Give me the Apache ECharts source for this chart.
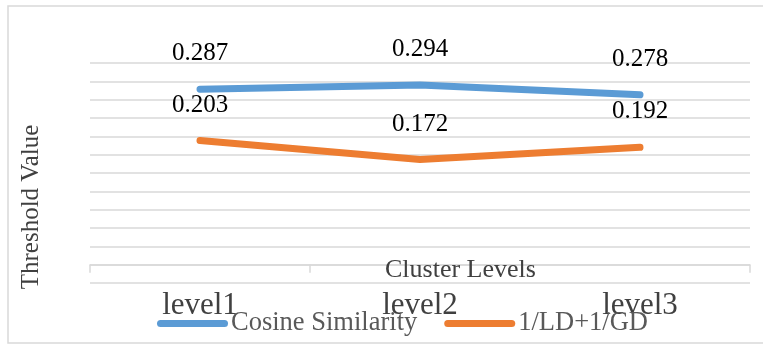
<!DOCTYPE html>
<html>
<head>
<meta charset="utf-8">
<script src="https://cdn.jsdelivr.net/npm/echarts@6/dist/echarts.min.js"></script>
<style>
  html, body { margin: 0; padding: 0; background: #fff; }
  #chart { width: 763px; height: 345px; }
</style>
</head>
<body>
<div id="chart"></div>
<script>
// Threshold values per cluster level for two distance measures
const categories = ['level1', 'level2', 'level3'];
const cosineSimilarity = [0.287, 0.294, 0.278];
const ldGdSum = [0.203, 0.172, 0.192];
const seriesNames = ['Cosine Similarity', '1/LD+1/GD'];

const FONT = "'Liberation Serif', 'Times New Roman', serif";
const GRID_GRAY = '#d9d9d9';

const chart = echarts.init(document.getElementById('chart'));

function lineSeries(name, data, color) {
  return {
    name: name,
    type: 'line',
    data: data,
    symbol: 'circle',
    symbolSize: 0,
    showSymbol: true,
    lineStyle: { color: color, width: 7, cap: 'round', join: 'round' },
    itemStyle: { color: color },
    label: {
      show: true,
      position: 'top',
      distance: 23,
      fontFamily: FONT,
      fontSize: 25,
      color: '#000',
      formatter: p => p.value.toFixed(3)
    },
    labelLayout: { hideOverlap: false },
    emphasis: { disabled: true }
  };
}

chart.setOption({
  animation: false,
  backgroundColor: '#fff',
  grid: { left: 90, right: 13, top: 63, bottom: 62 },
  xAxis: {
    type: 'category',
    data: categories,
    boundaryGap: true,
    axisLine: { show: true, onZero: true, lineStyle: { color: GRID_GRAY, width: 1.5 } },
    axisTick: { show: true, length: 8, lineStyle: { color: GRID_GRAY, width: 1.5 } },
    axisLabel: { fontFamily: FONT, fontSize: 31, color: '#404040', margin: 7 },
    splitLine: { show: false }
  },
  yAxis: {
    type: 'value',
    min: -0.03,
    max: 0.33,
    interval: 0.03,
    axisLine: { show: false },
    axisTick: { show: false },
    axisLabel: { show: false },
    splitLine: { show: true, lineStyle: { color: GRID_GRAY, width: 1.5 } }
  },
  legend: {
    left: 157,
    top: 310,
    padding: 0,
    itemWidth: 71,
    itemHeight: 7,
    itemGap: 27,
    icon: 'path://M3.5,0 H67.5 A3.5,3.5 0 0 1 67.5,7 H3.5 A3.5,3.5 0 0 1 3.5,0 Z',
    textStyle: { fontFamily: FONT, fontSize: 26.5, color: '#595959', padding: [0, 0, 0, -2] },
    data: seriesNames
  },
  graphic: [
    {
      type: 'rect',
      shape: { x: 8, y: 6, width: 770, height: 337 },
      style: { fill: 'none', stroke: GRID_GRAY, lineWidth: 1.5 },
      silent: true,
      z: -10
    },
    {
      type: 'text',
      x: 31,
      y: 207,
      rotation: Math.PI / 2,
      style: {
        text: 'Threshold Value',
        fontFamily: FONT,
        fontSize: 25,
        fill: '#404040',
        align: 'center',
        verticalAlign: 'middle'
      },
      silent: true
    },
    {
      type: 'text',
      x: 385,
      y: 270,
      style: {
        text: 'Cluster Levels',
        fontFamily: FONT,
        fontSize: 26,
        fill: '#404040',
        align: 'left',
        verticalAlign: 'middle'
      },
      silent: true,
      z: 100
    }
  ],
  series: [
    lineSeries(seriesNames[0], cosineSimilarity, '#5b9bd5'),
    lineSeries(seriesNames[1], ldGdSum, '#ed7d31')
  ]
});
</script>
</body>
</html>
